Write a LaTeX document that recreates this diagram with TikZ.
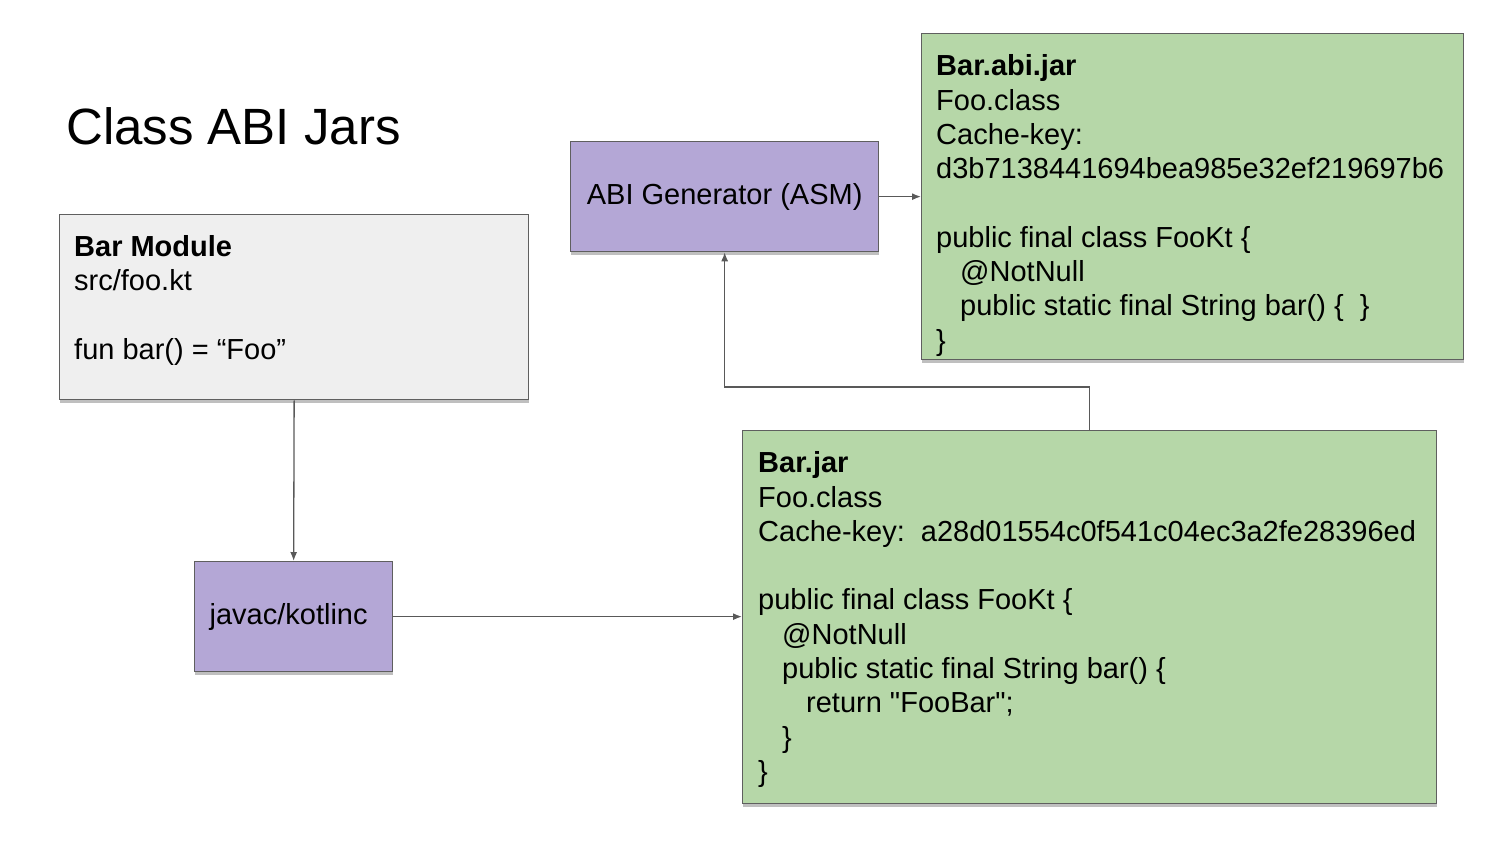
\documentclass[tikz,border=0pt]{standalone}
\usepackage{fontspec}
\setmainfont{Liberation Sans}
\usetikzlibrary{shadows,arrows.meta}
\definecolor{boxgray}{HTML}{EFEFEF}
\definecolor{boxpurple}{HTML}{B4A7D6}
\definecolor{boxgreen}{HTML}{B6D7A8}
\definecolor{edgegray}{HTML}{5F5F5F}
\definecolor{linegray}{HTML}{595959}
\tikzset{
  boxbase/.style={draw=edgegray, line width=1.3pt, inner sep=0pt, anchor=north west,
    drop shadow={shadow xshift=0.5pt, shadow yshift=-3pt, opacity=0.25, fill=black}},
  graybox/.style={boxbase, fill=boxgray},
  purplebox/.style={boxbase, fill=boxpurple, font=\fontsize{29}{34}\selectfont},
  greenbox/.style={boxbase, fill=boxgreen},
  boxtext/.style={anchor=north west, inner sep=0pt, align=left, font=\fontsize{29}{34.3}\selectfont},
  arr/.style={draw=linegray, line width=1.3pt, -{Latex[length=9pt,width=7pt]}},
}
\newcommand{\ind}{\hspace*{24pt}}
\newcommand{\sq}{\XeTeXglyph\XeTeXcharglyph"0022\relax}
\begin{document}
\begin{tikzpicture}[x=1pt,y=-1pt]
\useasboundingbox (0,0) rectangle (1500,844);
% title
\node[anchor=base west, inner sep=0pt, font=\fontsize{51}{58}\selectfont] (title) at (66,144) {Class ABI Jars};
% boxes
\node[graybox, minimum width=469pt, minimum height=185pt] (barmod) at (59,214) {};
\node[boxtext] (barmodtxt) at ([xshift=15pt,yshift=-21pt]barmod.north west)
  {\textbf{Bar Module}\\src/foo.kt\\[34.3pt]fun bar() = “Foo”};
\node[purplebox, minimum width=198pt, minimum height=110pt] (javac) at (194,561) {\raisebox{-2pt}{javac/kotlinc}\hspace*{10pt}};
\node[purplebox, minimum width=308pt, minimum height=110pt] (abigen) at (570,141) {\raisebox{-2pt}{ABI Generator (ASM)}};
\node[greenbox, minimum width=542pt, minimum height=326pt] (barabi) at (921,33) {};
\node[boxtext] (barabitxt) at ([xshift=15pt,yshift=-21.5pt]barabi.north west)
  {\textbf{Bar.abi.jar}\\Foo.class\\Cache-key:\\d3b7138441694bea985e32ef219697b6\\[34.3pt]public final class FooKt \{\\\ind @NotNull\\\ind public static final String bar() \{\ \ \}\\\}};
\node[greenbox, minimum width=694pt, minimum height=373pt] (barjar) at (742,430) {};
\node[boxtext] (barjartxt) at ([xshift=16pt,yshift=-21.5pt]barjar.north west)
  {\textbf{Bar.jar}\\Foo.class\\Cache-key:\ \ a28d01554c0f541c04ec3a2fe28396ed\\[34.3pt]public final class FooKt \{\\\ind @NotNull\\\ind public static final String bar() \{\\\ind\ind return \sq FooBar\sq;\\\ind \}\\\}};
% connectors
\draw[arr] (barmod.south) -- (javac.north);
\draw[arr] (javac.east) -- (javac.east -| barjar.west);
\draw[arr] (barjar.north) -- ++(0,-43) -| (abigen.south);
\draw[arr] (abigen.east) -- (barabi.west);
\end{tikzpicture}
\end{document}
